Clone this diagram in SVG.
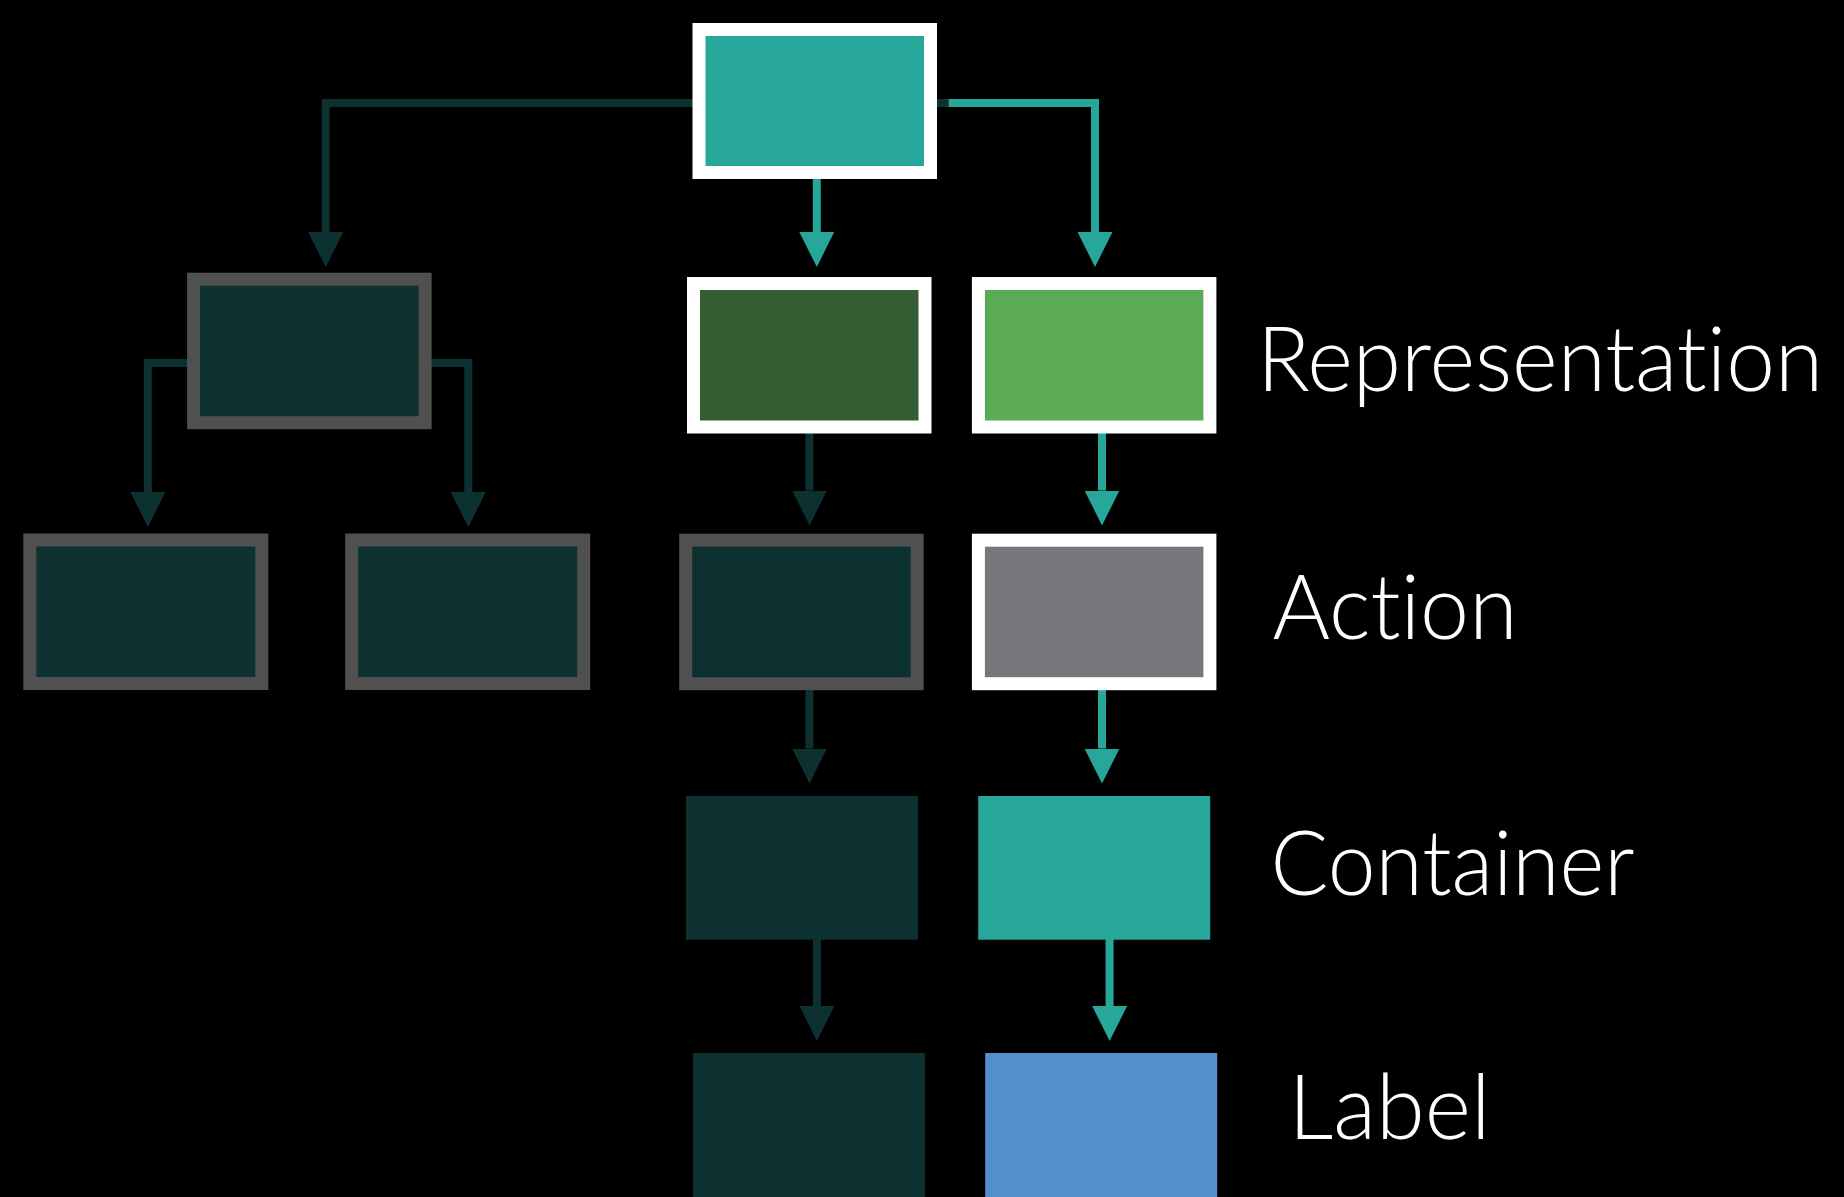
<svg xmlns="http://www.w3.org/2000/svg" width="1844" height="1197" viewBox="0 0 1844 1197">
<style>
.bg{fill:#000}
.ln{fill:none;stroke-width:8;stroke-linejoin:miter}
.dk{stroke:#0D3130}
.tl{stroke:#27A79A}
.bw{stroke:#FFFFFF;stroke-width:13}
.bg2{stroke:#505050;stroke-width:13}
.lbl{font-family:Lato,"Open Sans","Liberation Sans",sans-serif;font-weight:300;font-size:90px;fill:#FFFFFF;font-variant-ligatures:none;font-feature-settings:"liga" 0,"dlig" 0}
</style>
<defs>
<marker id="ad" viewBox="0 0 35 35" markerUnits="userSpaceOnUse" markerWidth="35" markerHeight="35" refX="0" refY="17.5" orient="auto"><path d="M0,0 L35,17.5 L0,35 Z" fill="#0D3130"/></marker>
<marker id="at" viewBox="0 0 35 35" markerUnits="userSpaceOnUse" markerWidth="35" markerHeight="35" refX="0" refY="17.5" orient="auto"><path d="M0,0 L35,17.5 L0,35 Z" fill="#27A79A"/></marker>
</defs>
<rect class="bg" x="0" y="0" width="1844" height="1197"/>
<g id="connectors">
<path class="ln dk" d="M949,103 H325.7 V232" marker-end="url(#ad)"/>
<path class="ln tl" d="M948.6,103 H1095 V232" marker-end="url(#at)"/>
<path class="ln tl" d="M816.8,179 V232" marker-end="url(#at)"/>
<path class="ln dk" d="M190,363 H147.8 V492" marker-end="url(#ad)"/>
<path class="ln dk" d="M430,363 H468.3 V492" marker-end="url(#ad)"/>
<path class="ln dk" d="M809.5,433 V490.5" marker-end="url(#ad)"/>
<path class="ln tl" d="M1102,433 V490.5" marker-end="url(#at)"/>
<path class="ln dk" d="M809.5,690 V748.5" marker-end="url(#ad)"/>
<path class="ln tl" d="M1102,690 V748.5" marker-end="url(#at)"/>
<path class="ln dk" d="M816.9,939 V1006" marker-end="url(#ad)"/>
<path class="ln tl" d="M1109.6,939 V1006" marker-end="url(#at)"/>
</g>
<g id="node-top"><rect class="bw" x="699" y="29.5" width="231.5" height="143" fill="#27A79A"/></g>
<g id="node-left"><rect class="bg2" x="193.6" y="279.2" width="231.5" height="143.5" fill="#0D3130"/></g>
<g id="node-rep-dark"><rect class="bw" x="693.5" y="283.5" width="231.5" height="143.5" fill="#345E31"/></g>
<g id="node-rep"><rect class="bw" x="978.4" y="283.5" width="231.5" height="143.5" fill="#5AAA56"/></g>
<g id="node-left-a"><rect class="bg2" x="29.8" y="540" width="232" height="143.5" fill="#0D3130"/></g>
<g id="node-left-b"><rect class="bg2" x="351.7" y="540" width="232" height="143.5" fill="#0D3130"/></g>
<g id="node-action-dark"><rect class="bg2" x="685.7" y="540.2" width="231.5" height="143.5" fill="#0D3130"/></g>
<g id="node-action"><rect class="bw" x="978.4" y="540.2" width="231.5" height="143.5" fill="#77767B"/></g>
<g id="node-container-dark"><rect x="685.9" y="796" width="232" height="143.7" fill="#0D3130"/></g>
<g id="node-container"><rect x="978.2" y="796" width="232" height="143.7" fill="#27A79A"/></g>
<g id="node-label-dark"><rect x="692.9" y="1053" width="232" height="144" fill="#0D3130"/></g>
<g id="node-label"><rect x="985.2" y="1053" width="232" height="144" fill="#548FCC"/></g>
<g id="labels">
<text class="lbl" x="1257" y="391" textLength="566" lengthAdjust="spacingAndGlyphs">Representation</text>
<text class="lbl" x="1272.5" y="639" textLength="245" lengthAdjust="spacingAndGlyphs">Action</text>
<text class="lbl" x="1270.5" y="895" textLength="364" lengthAdjust="spacingAndGlyphs">Container</text>
<text class="lbl" x="1288.5" y="1139" textLength="202" lengthAdjust="spacingAndGlyphs">Label</text>
</g>
</svg>
